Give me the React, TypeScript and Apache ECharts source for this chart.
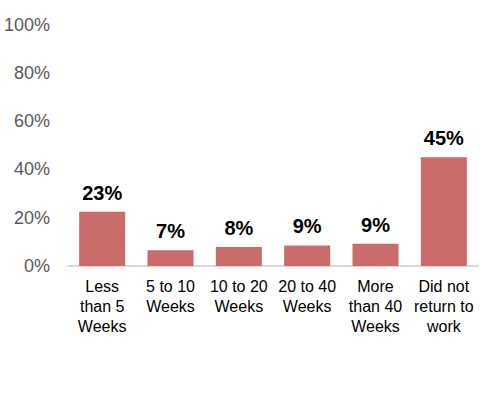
import React, { useEffect, useRef } from "react";
import * as echarts from "echarts";

const categories = [
  "Less\nthan 5\nWeeks",
  "5 to 10\nWeeks",
  "10 to 20\nWeeks",
  "20 to 40\nWeeks",
  "More\nthan 40\nWeeks",
  "Did not\nreturn to\nwork",
];
const values = [22.5, 6.5, 7.9, 8.5, 9.2, 45];
const yTicks = [0, 20, 40, 60, 80, 100];

export default function App() {
  const ref = useRef<HTMLDivElement>(null);
  useEffect(() => {
    if (!ref.current) return;
    const chart = echarts.init(ref.current, undefined, { renderer: "svg" });
    chart.setOption({
      animation: false,
      grid: { left: 68, right: 3, top: 24.5, bottom: 129, containLabel: false },
      xAxis: {
        type: "category",
        data: categories,
        axisLine: { lineStyle: { color: "#d9d9d9", width: 2 } },
        axisTick: { show: false },
        axisLabel: {
          color: "#000",
          fontFamily: "Liberation Sans, Arial, sans-serif",
          fontSize: 16,
          lineHeight: 20,
          margin: 10,
          interval: 0,
        },
      },
      yAxis: {
        type: "value",
        min: 0,
        max: 100,
        interval: 20,
        splitLine: { show: false },
        axisLine: { show: false },
        axisTick: { show: false },
        axisLabel: {
          color: "#595959",
          fontFamily: "Liberation Sans, Arial, sans-serif",
          fontSize: 18,
          margin: 18,
          formatter: (v: number) => (yTicks.includes(v) ? v + "%" : ""),
        },
      },
      series: [
        {
          type: "bar",
          data: values,
          barWidth: 46,
          itemStyle: { color: "#C96C6A" },
          label: {
            show: true,
            position: "top",
            distance: 9,
            color: "#000",
            fontWeight: "bold",
            fontFamily: "Liberation Sans, Arial, sans-serif",
            fontSize: 20,
            formatter: (p: any) => Math.round(p.value) + "%",
          },
        },
      ],
    });
    return () => chart.dispose();
  }, []);
  return <div ref={ref} style={{ width: 481, height: 395, position: "absolute", left: 0, top: 0 }} />;
}
